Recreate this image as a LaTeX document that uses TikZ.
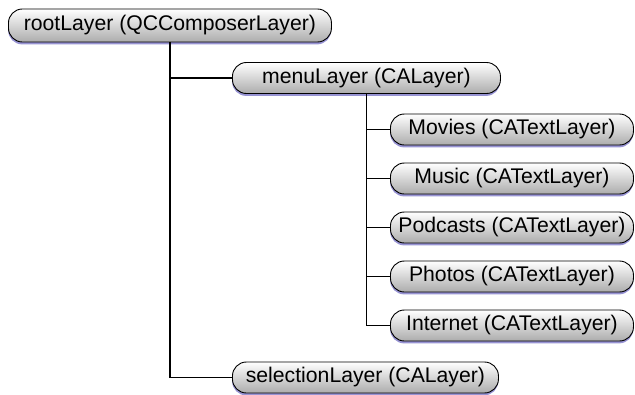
\documentclass[tikz,border=0pt]{standalone}
\usepackage{fontspec}
\setmainfont{Liberation Sans}
\usetikzlibrary{shadows}
\definecolor{pillshadow}{RGB}{125,120,200}
\definecolor{pillbottom}{RGB}{172,172,172}
\tikzset{
  pill/.style={draw=black, line width=0.9pt, rounded corners=14pt,
    minimum height=31pt, anchor=west, inner sep=0pt,
    top color=white, bottom color=pillbottom, font=\fontsize{21.2}{24}\selectfont,
    drop shadow={shadow xshift=-0.3pt, shadow yshift=-2.4pt, fill=pillshadow, opacity=0.8}},
  link/.style={line width=1.4pt, black}
}
\begin{document}
\begin{tikzpicture}[x=1pt,y=-1pt]
  \useasboundingbox (0,0) rectangle (635,394);
  % tree nodes
  \node[pill, minimum width=323pt, minimum height=33pt] (root) at (8,25.5) {rootLayer (QCComposerLayer)};
  \node[pill, minimum width=268pt] (menu) at (232,78) {menuLayer (CALayer)};
  \node[pill, minimum width=243pt] (movies) at (390,129.5) {Movies (CATextLayer)};
  \node[pill, minimum width=243pt] (music) at (390,178.5) {Music (CATextLayer)};
  \node[pill, minimum width=243pt] (podcasts) at (390,227.5) {Podcasts (CATextLayer)};
  \node[pill, minimum width=243pt] (photos) at (390,276.5) {Photos (CATextLayer)};
  \node[pill, minimum width=243pt] (internet) at (390,325.5) {Internet (CATextLayer)};
  \node[pill, minimum width=266pt] (sel) at (232,377.5) {selectionLayer (CALayer)};
  % connectors
  \draw[link] (root.south) |- (menu.west);
  \draw[link] (root.south) |- (sel.west);
  \foreach \c in {movies,music,podcasts,photos,internet}
    \draw[link] (menu.south) |- (\c.west);
\end{tikzpicture}
\end{document}
